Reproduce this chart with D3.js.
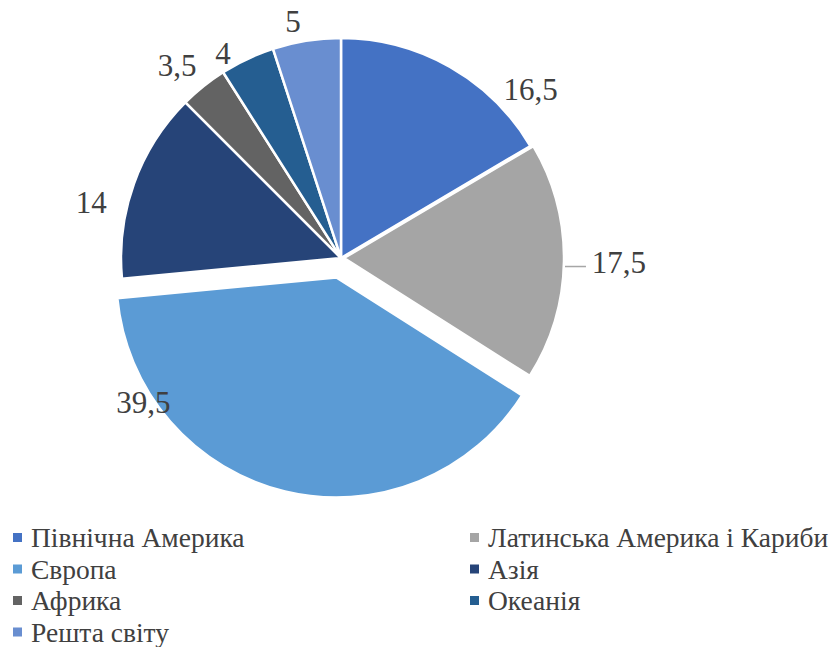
<!DOCTYPE html>
<html><head><meta charset="utf-8">
<script src="https://cdn.jsdelivr.net/npm/d3@7"></script>
<style>html,body{margin:0;padding:0;background:#fff;}svg{display:block;}
text{font-family:"Liberation Serif","Times New Roman","DejaVu Serif",serif;}</style>
</head><body>
<svg id="chart" width="839" height="647"></svg>
<script>
const categories = ["Північна Америка","Латинська Америка і Кариби","Європа","Азія","Африка","Океанія","Решта світу"];
const values = [16.5, 17.5, 39.5, 14, 3.5, 4, 5];
const valueLabels = ["16,5","17,5","39,5","14","3,5","4","5"];
const colors = ["#4472C4","#A5A5A5","#5B9BD5","#264478","#636363","#255E91","#698ED0"];

// layout (styling, not data)
const cx = 341, cy = 258, R = 220;
const explode = [0, 3, 20, 0, 0, 0, 0];
const labelAngleShift = [18.6, 0.1, 40.3, -7.2, -1.7, -4.8, -2.5];
const labelRadius = [254, 278, 245, 256, 253, 236, 241];

const svg = d3.select("#chart");
const pie = d3.pie().sort(null).value(d => d)(values);
const arc = d3.arc().innerRadius(0).outerRadius(R);
const g = svg.append("g").attr("transform", `translate(${cx},${cy})`);

const rad = Math.PI/180;
pie.forEach((p, i) => {
  const mid = (p.startAngle + p.endAngle) / 2;
  const ox = Math.sin(mid) * explode[i], oy = -Math.cos(mid) * explode[i];
  g.append("path").attr("d", arc(p))
    .attr("transform", `translate(${ox},${oy})`)
    .attr("fill", colors[i]).attr("stroke", "#fff").attr("stroke-width", 2.5)
    .attr("stroke-linejoin", "round");
});

pie.forEach((p, i) => {
  const mid = (p.startAngle + p.endAngle) / 2 + labelAngleShift[i] * rad;
  const x = Math.sin(mid) * labelRadius[i], y = -Math.cos(mid) * labelRadius[i];
  g.append("text").attr("x", x).attr("y", y + 10.5)
    .attr("text-anchor", "middle")
    .attr("font-size", 31).attr("fill", "#404040").text(valueLabels[i]);
});

// leader line for the Latin America label
{
  const p = pie[1];
  const mid = (p.startAngle + p.endAngle) / 2;
  const r0 = R + explode[1] + 1, r1 = R + 25;
  g.append("line")
    .attr("x1", Math.sin(mid) * r0).attr("y1", -Math.cos(mid) * r0 + 5)
    .attr("x2", Math.sin(mid) * r1).attr("y2", -Math.cos(mid) * r0 + 5)
    .attr("stroke", "#A6A6A6").attr("stroke-width", 1.5);
}

// legend
const legend = svg.append("g");
const colX = [13, 470], rowY0 = 547, rowH = 31.5;
categories.forEach((c, i) => {
  const col = i % 2, row = Math.floor(i / 2);
  const x = colX[col], y = rowY0 + row * rowH;
  legend.append("rect").attr("x", x).attr("y", y - 14).attr("width", 9).attr("height", 9).attr("fill", colors[i]);
  legend.append("text").attr("x", x + 18).attr("y", y)
    .attr("font-size", 27.5).attr("fill", "#404040").text(c);
});
</script>
</body></html>
